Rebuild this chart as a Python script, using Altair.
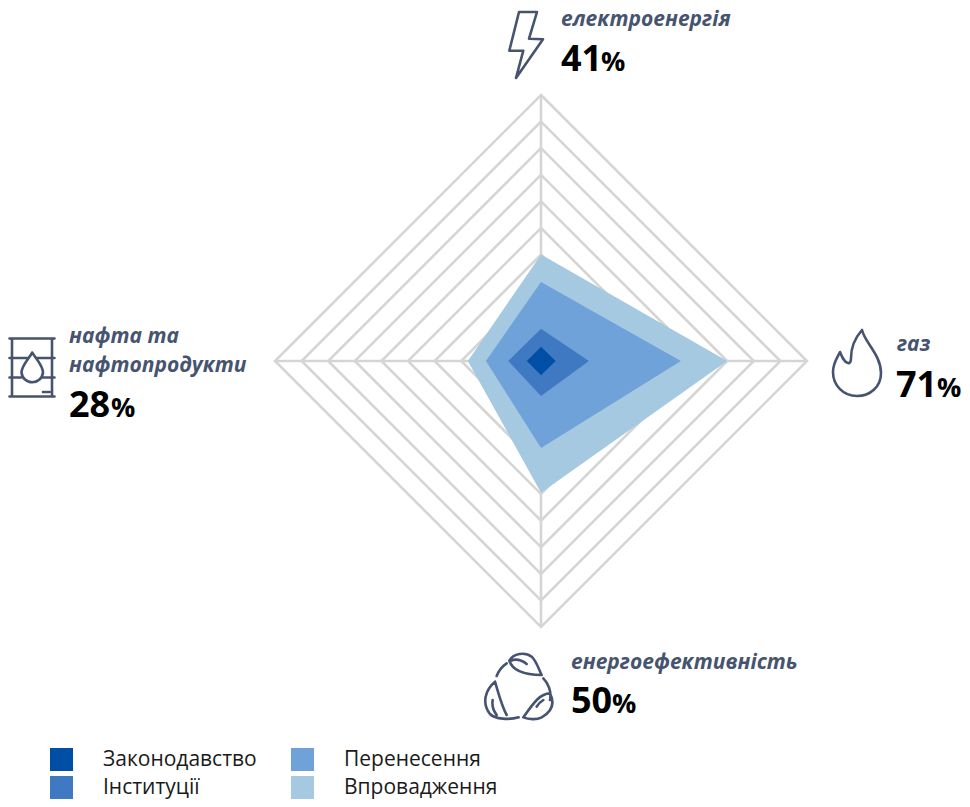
import altair as alt
import pandas as pd

series = ["Законодавство", "Інституції", "Перенесення", "Впровадження"]
colors = ["#004EA5", "#3F79C1", "#6FA2D8", "#A5C9E1"]
# values along the axes: top, right, bottom, left
top_vals = [5.4, 12.1, 29.7, 40.0]
right_vals = [5.5, 18.0, 52.6, 70.0]
bottom_vals = [5.4, 13.2, 32.7, 49.5]
left_vals = [5.3, 12.3, 20.7, 27.5]
ring_levels = [10, 20, 30, 40, 50, 60, 70, 80, 90, 100]

GRID = "#D5D5D5"
INK = "#46546F"
FONT = "Open Sans"

x_scale = alt.Scale(domain=[-100, 100], range=[267, 799])
y_scale = alt.Scale(domain=[-100, 100], range=[619, 87])
X = lambda f: alt.X(f, type="quantitative", scale=x_scale, axis=None)
Y = lambda f: alt.Y(f, type="quantitative", scale=y_scale, axis=None)

layers = []

spoke_rows = [{"x": 0, "y": -100, "x2": 0, "y2": 100}, {"x": -100, "y": 0, "x2": 100, "y2": 0}]
layers.append(alt.Chart(pd.DataFrame(spoke_rows)).mark_rule(color=GRID, strokeWidth=2.6).encode(
    x=X("x"), y=Y("y"), x2="x2:Q", y2="y2:Q"))

ring_rows = []
for level in ring_levels:
    for i, (dx, dy) in enumerate([(0, 1), (1, 0), (0, -1), (-1, 0)]):
        ring_rows.append({"level": level, "i": i, "x": dx * level, "y": dy * level})
layers.append(alt.Chart(pd.DataFrame(ring_rows)).mark_line(
    color=GRID, strokeWidth=2.6, interpolate="linear-closed", strokeJoin="miter", strokeMiterLimit=10).encode(
    x=X("x"), y=Y("y"), detail="level:N", order="i:Q"))

color_enc = alt.Color("series:N", scale=alt.Scale(domain=series, range=colors), legend=alt.Legend(
    orient="none", legendX=42, legendY=740, direction="vertical", columns=2, title=None, padding=0,
    symbolType="square", symbolSize=529, symbolStrokeWidth=0, symbolOpacity=1,
    labelFont=FONT, labelFontSize=21, labelColor="#1A1A1A", labelOffset=30,
    rowPadding=5, columnPadding=34, labelLimit=300))

for k in [3, 2, 1, 0]:
    rows = [
        {"series": series[k], "x": -left_vals[k], "y": 0, "y2": 0},
        {"series": series[k], "x": 0, "y": top_vals[k], "y2": -bottom_vals[k]},
        {"series": series[k], "x": right_vals[k], "y": 0, "y2": 0},
    ]
    layers.append(alt.Chart(pd.DataFrame(rows)).mark_area(opacity=1, interpolate="linear").encode(
        x=X("x"), y=Y("y"), y2="y2:Q", color=color_enc))


def txt(s, x, y, size, weight="bold", style="normal", color="#000000"):
    return alt.Chart(pd.DataFrame({"t": [s]})).mark_text(
        align="left", baseline="alphabetic", font=FONT, fontSize=size, fontWeight=weight,
        fontStyle=style, color=color).encode(x=alt.value(x - 8), y=alt.value(y - 8), text="t:N")


def icon(path, x, y, scale=1.0):
    return alt.Chart(pd.DataFrame({"a": [0]})).mark_point(
        shape=path, size=4 * scale * scale, filled=False, opacity=1, stroke=INK, strokeWidth=2.6,
        strokeJoin="round", strokeCap="round").encode(x=alt.value(x - 8), y=alt.value(y - 8))


labels = [
    ("електроенергія", 561, 26, "41", 561, 71, 601),
    ("газ", 897, 351, "71", 896, 397, 937),
    ("нафта та", 69, 343, "28", 69, 417, 111),
    ("нафтопродукти", 69, 372, None, 0, 0, 0),
    ("енергоефективність", 571, 669, "50", 571, 713, 612),
]
for name, lx, ly, num, nx, ny, px in labels:
    layers.append(txt(name, lx, ly, 21, style="italic", color=INK))
    if num:
        layers.append(txt(num, nx, ny, 36))
        layers.append(txt("%", px, ny, 27))

BOLT = "M-7,-33H11L3,-6.3L17,-5.7L-10,33L-2.7,5.7H-16.7Z"
FLAME = ("M5,-33C8,-20 24,-8 24,10C24,24 13,33 0,33C-14,33 -24,22 -24,9C-24,0 -20,-5 -17,-11"
         "C-15,-6 -13,-1 -9,0C-7,1 -6,-2 -6,-5C-6,-15 -2,-25 5,-33Z")
BARREL = ("M-22.5,-29H22.5M-22.5,29H22.5M-20,-29V29M20,-29V29"
          "M-22.5,-9.5H-4M4,-9.5H22.5M-22.5,10H-11M11,10H22.5"
          "M0.3,-15C-3,-9 -10.5,-2 -10.5,5A10.8,10.8 0 0 0 11,5C11,-2 3.5,-9 0.3,-15Z"
          "M11,24.5H13.5M15,24.5H17.5")
LEAVES = ("M-29,-76C-17,-98 18,-103 38,-88C53,-73 58,-53 68,-33C33,-33 -17,-38 -29,-76Z"
          "M-25,-76C-7,-83 8,-78 23,-66"
          "M-37,-68C-52,-58 -62,-43 -67,-30"
          "M73,-23C88,-8 98,17 93,42"
          "M-72,-13C-102,12 -112,52 -87,84C-72,100 -27,102 -1,94"
          "M-72,-13C-62,20 -52,60 -37,87"
          "M-79,42C-82,60 -76,75 -67,87"
          "M13,94C43,52 63,22 93,22C108,52 98,77 68,94C53,102 28,100 13,94Z"
          "M73,42C65,47 58,52 53,62")

layers.append(icon(BOLT, 526, 45))
layers.append(icon(FLAME, 857, 363))
layers.append(icon(BARREL, 32, 367.5))
layers.append(icon(LEAVES, 519, 686, 1 / 3))

chart = alt.layer(*layers).resolve_scale(color="shared").properties(
    width=954, height=791, padding=0, background="white",
    autosize=alt.AutoSizeParams(type="none")
).configure_view(stroke=None)

chart.save("out.html", embed_options={"renderer": "svg", "actions": False})
